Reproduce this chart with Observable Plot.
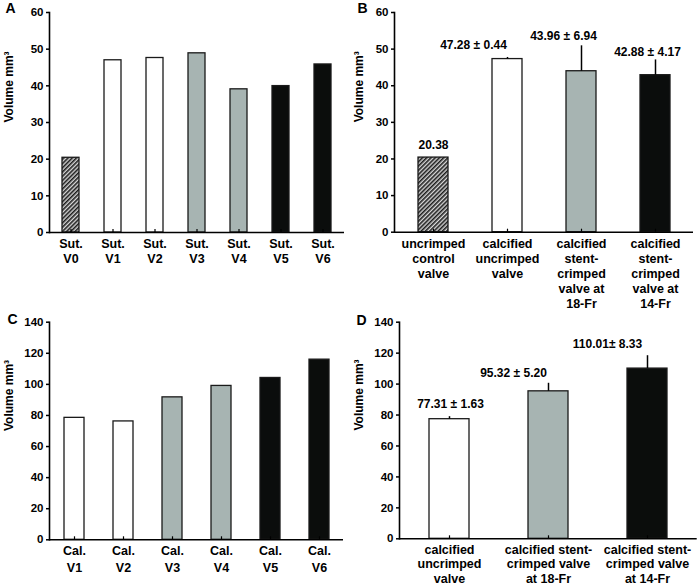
<!DOCTYPE html>
<html><head><meta charset="utf-8">
<script src="https://cdn.jsdelivr.net/npm/d3@7"></script>
<script src="https://cdn.jsdelivr.net/npm/@observablehq/plot@0.6"></script>
<style>
body{margin:0;background:#fff;}
#wrap{position:relative;width:700px;height:586px;overflow:hidden;background:#fff;}
.panel{position:absolute;}
</style></head><body>
<svg width="0" height="0" style="position:absolute"><defs>
<pattern id="hatch" patternUnits="userSpaceOnUse" width="3" height="3" patternTransform="rotate(45)">
<rect width="3" height="3" fill="#d8d8d8"/>
<line x1="0.8" y1="0" x2="0.8" y2="3" stroke="#1e1e1e" stroke-width="1.6"/>
</pattern></defs></svg>
<div id="wrap">
<div class="panel" id="pA" style="left:0;top:0"></div>
<div class="panel" id="pC" style="left:0;top:290px"></div>
<div class="panel" id="pB" style="left:350px;top:0"></div>
<div class="panel" id="pD" style="left:350px;top:290px"></div>
</div>
<script>
// ---------- data ----------
const yLabel = "Volume mm³";

const catsA = ["Sut.\nV0", "Sut.\nV1", "Sut.\nV2", "Sut.\nV3", "Sut.\nV4", "Sut.\nV5", "Sut.\nV6"];
const valsA = [20.38, 46.97, 47.59, 48.87, 39.05, 39.93, 45.83];
const groupsA = ["control", "uncrimped", "uncrimped", "18Fr", "18Fr", "14Fr", "14Fr"];

const catsB = ["uncrimped\ncontrol\nvalve", "calcified\nuncrimped\nvalve", "calcified\nstent-\ncrimped\nvalve at\n18-Fr", "calcified\nstent-\ncrimped\nvalve at\n14-Fr"];
const valsB = [20.38, 47.28, 43.96, 42.88];
const errsB = [null, 0.44, 6.94, 4.17];
const groupsB = ["control", "uncrimped", "18Fr", "14Fr"];
const labelsB = ["20.38", "47.28 ± 0.44", "43.96 ± 6.94", "42.88 ± 4.17"];

const catsC = ["Cal.\nV1", "Cal.\nV2", "Cal.\nV3", "Cal.\nV4", "Cal.\nV5", "Cal.\nV6"];
const valsC = [78.46, 76.16, 91.65, 99.0, 104.12, 115.9];
const groupsC = ["uncrimped", "uncrimped", "18Fr", "18Fr", "14Fr", "14Fr"];

const catsD = ["calcified\nuncrimped\nvalve", "calcified stent-\ncrimped valve\nat 18-Fr", "calcified stent-\ncrimped valve\nat 14-Fr"];
const valsD = [77.31, 95.32, 110.01];
const errsD = [1.63, 5.20, 8.33];
const groupsD = ["uncrimped", "18Fr", "14Fr"];
const labelsD = ["77.31 ± 1.63", "95.32 ± 5.20", "110.01± 8.33"];

// ---------- style ----------
const FILL = {control: "url(#hatch)", uncrimped: "#ffffff", "18Fr": "#a7b4b2", "14Fr": "#0b0d0c"};
const FONT = "Arial, 'Liberation Sans', Helvetica, sans-serif";

function panel(o) {
  const data = o.cats.map((c, i) => ({c, v: o.vals[i], g: o.groups[i], e: o.errs ? o.errs[i] : null}));
  const marks = [
    Plot.barY(data, {x: "c", y: "v", fill: d => FILL[d.g], stroke: "#1a1a1a", strokeWidth: 1.3}),
    Plot.ruleX(data.filter(d => d.e != null), {x: "c", y1: "v", y2: d => d.v + d.e, stroke: "#000", strokeWidth: 1.5}),
    Plot.ruleY([0], {stroke: "#000", strokeWidth: 1.6}),
    Plot.frame({anchor: "left", stroke: "#000", strokeWidth: 1.6}),
    Plot.ruleX(data, {x: "c", y1: 0, y2: 0, insetTop: -3, stroke: "#000", strokeWidth: 1.2}),
    Plot.axisY({ticks: d3.range(0, o.yMax + o.yStep / 2, o.yStep), tickSize: 3, tickPadding: 3, fontSize: 11.5, label: null, strokeWidth: 1.5}),
    Plot.text(o.cats, {x: d => d, frameAnchor: "bottom", lineAnchor: "top", dy: o.xlabDy, lineHeight: o.xlabLH, fontSize: 12.5}),
    Plot.text([yLabel], {frameAnchor: "left", rotate: -90, dx: o.yLabDx, fontSize: 12}),
    Plot.text([o.letter], {frameAnchor: "top-left", textAnchor: "start", lineAnchor: "middle", dx: o.letDx, dy: o.letDy, fontSize: 14})
  ];
  if (o.labels) {
    o.labels.forEach((t, i) => {
      const [dx, dy] = o.labelOffsets[i];
      marks.push(Plot.text([data[i]], {x: "c", y: d => d.v + (d.e || 0), text: () => t, dx, dy, fontSize: 12, lineAnchor: "middle"}));
    });
  }
  return Plot.plot({
    width: o.width, height: o.height,
    marginLeft: o.mL, marginRight: o.mR, marginTop: o.mT, marginBottom: o.mB,
    x: {domain: o.cats, paddingInner: 0.6, paddingOuter: 0.3, axis: null},
    y: {domain: [0, o.yMax], axis: null},
    color: {type: "identity"},
    style: {background: "transparent", overflow: "visible", fontFamily: FONT, fontWeight: "bold", color: "#000"},
    marks
  });
}

document.getElementById("pA").append(panel({
  cats: catsA, vals: valsA, groups: groupsA, yMax: 60, yStep: 10, letter: "A",
  width: 350, height: 290, mL: 49, mR: 6, mT: 12, mB: 58,
  xlabDy: 5, xlabLH: 1.2, yLabDx: -40, letDx: -44, letDy: -3.5
}));
document.getElementById("pB").append(panel({
  cats: catsB, vals: valsB, errs: errsB, groups: groupsB, yMax: 60, yStep: 10, letter: "B",
  width: 350, height: 312, mL: 44, mR: 7, mT: 12, mB: 80.3,
  xlabDy: 5, xlabLH: 1.2, yLabDx: -35, letDx: -37, letDy: -4,
  labels: labelsB, labelOffsets: [[0, -12], [-34, -12], [-18, -10], [-8, -8]]
}));
document.getElementById("pC").append(panel({
  cats: catsC, vals: valsC, groups: groupsC, yMax: 140, yStep: 20, letter: "C",
  width: 350, height: 296, mL: 49, mR: 7, mT: 31.7, mB: 46.7,
  xlabDy: 4, xlabLH: 1.3, yLabDx: -40, letDx: -42, letDy: -2.7
}));
document.getElementById("pD").append(panel({
  cats: catsD, vals: valsD, errs: errsD, groups: groupsD, yMax: 140, yStep: 20, letter: "D",
  width: 350, height: 296, mL: 49, mR: 3.3, mT: 31.7, mB: 47.7,
  xlabDy: 5, xlabLH: 1.15, yLabDx: -40, letDx: -43, letDy: -1.7,
  labels: labelsD, labelOffsets: [[1, -13], [-35, -10.5], [-40, -11.4]]
}));
</script>
</body></html>
